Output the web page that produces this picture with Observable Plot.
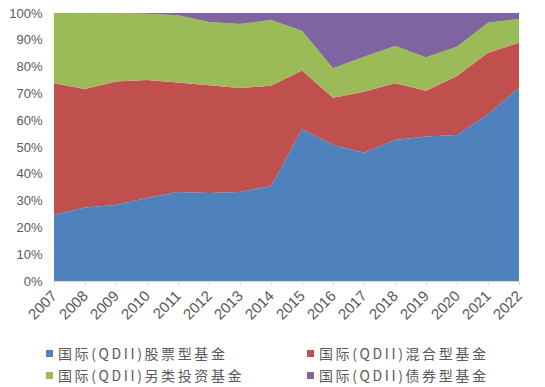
<!DOCTYPE html>
<html>
<head>
<meta charset="utf-8">
<script src="https://cdn.jsdelivr.net/npm/d3@7"></script>
<script src="https://cdn.jsdelivr.net/npm/@observablehq/plot@0.6"></script>
<style>
  html, body { margin: 0; padding: 0; background: #fff; }
  #chart { width: 545px; height: 387px; position: relative; }
  .legend { position: absolute; left: 0; top: 0; font-family: "Noto Sans CJK SC", sans-serif; font-size: 14px; color: #595959; }
  .item { position: absolute; white-space: nowrap; letter-spacing: 2.6px; display: flex; align-items: center; height: 20px; }
  .sw { width: 7px; height: 7px; display: inline-block; margin-right: 5px; }
</style>
</head>
<body>
<div id="chart"></div>
<script>
const years = [2007, 2008, 2009, 2010, 2011, 2012, 2013, 2014, 2015, 2016, 2017, 2018, 2019, 2020, 2021, 2022];
const seriesNames = ["国际(QDII)股票型基金", "国际(QDII)混合型基金", "国际(QDII)另类投资基金", "国际(QDII)债券型基金"];
const stockShare = [24.6, 27.4, 28.4, 31.0, 33.2, 32.8, 33.2, 35.4, 56.6, 50.7, 47.9, 52.6, 53.9, 54.5, 62.2, 72.1];
const mixedShare = [49.2, 44.2, 46.0, 44.0, 40.9, 40.2, 38.8, 37.5, 21.9, 17.7, 22.7, 21.2, 17.1, 22.0, 23.0, 16.8];
const altShare   = [26.2, 28.4, 25.5, 24.7, 25.1, 23.6, 23.9, 24.5, 14.9, 11.0, 13.1, 13.9, 12.5, 10.9, 11.2, 8.9];
const bondShare  = [0.0, 0.0, 0.1, 0.3, 0.8, 3.4, 4.1, 2.6, 6.6, 20.6, 16.3, 12.3, 16.5, 12.6, 3.6, 2.2];
const yTicks = [0, 10, 20, 30, 40, 50, 60, 70, 80, 90, 100];
const colors = ["#4F81BD", "#C0504D", "#9BBB59", "#8064A2"];

const seriesValues = [stockShare, mixedShare, altShare, bondShare];
const rows = [];
seriesNames.forEach((name, si) => {
  years.forEach((yr, i) => rows.push({year: yr, series: name, value: seriesValues[si][i]}));
});

const plot = Plot.plot({
  width: 545,
  height: 335,
  marginLeft: 54,
  marginRight: 26,
  marginTop: 13,
  marginBottom: 54,
  style: {fontFamily: "'Liberation Sans', Arial, sans-serif", fontSize: "13px", color: "#595959", background: "#fff"},
  x: {domain: [2007, 2022]},
  y: {domain: [0, 100]},
  color: {domain: seriesNames, range: colors},
  marks: [
    Plot.areaY(rows, Plot.stackY({order: seriesNames}, {x: "year", y: "value", z: "series", fill: "series"})),
    Plot.ruleY([0], {stroke: "#d9d9d9"}),
    Plot.axisY({ticks: yTicks, tickFormat: d => d + "%", tickSize: 0, tickPadding: 12, label: null, fill: "#595959", fontSize: 13}),
    Plot.axisX({ticks: years, tickFormat: d => String(d), tickRotate: -45, tickSize: 4, tickPadding: 8, stroke: "#d9d9d9", label: null, fill: "#595959", fontSize: 15})
  ]
});

const chart = document.getElementById("chart");
chart.appendChild(plot);

const legend = document.createElement("div");
legend.className = "legend";
const pos = [[46, 343], [307, 343], [46, 365], [307, 365]];
seriesNames.forEach((name, i) => {
  const it = document.createElement("div");
  it.className = "item";
  it.style.left = pos[i][0] + "px";
  it.style.top = pos[i][1] + "px";
  it.innerHTML = `<span class="sw" style="background:${colors[i]}"></span><span>${name}</span>`;
  legend.appendChild(it);
});
chart.appendChild(legend);
</script>
</body>
</html>
